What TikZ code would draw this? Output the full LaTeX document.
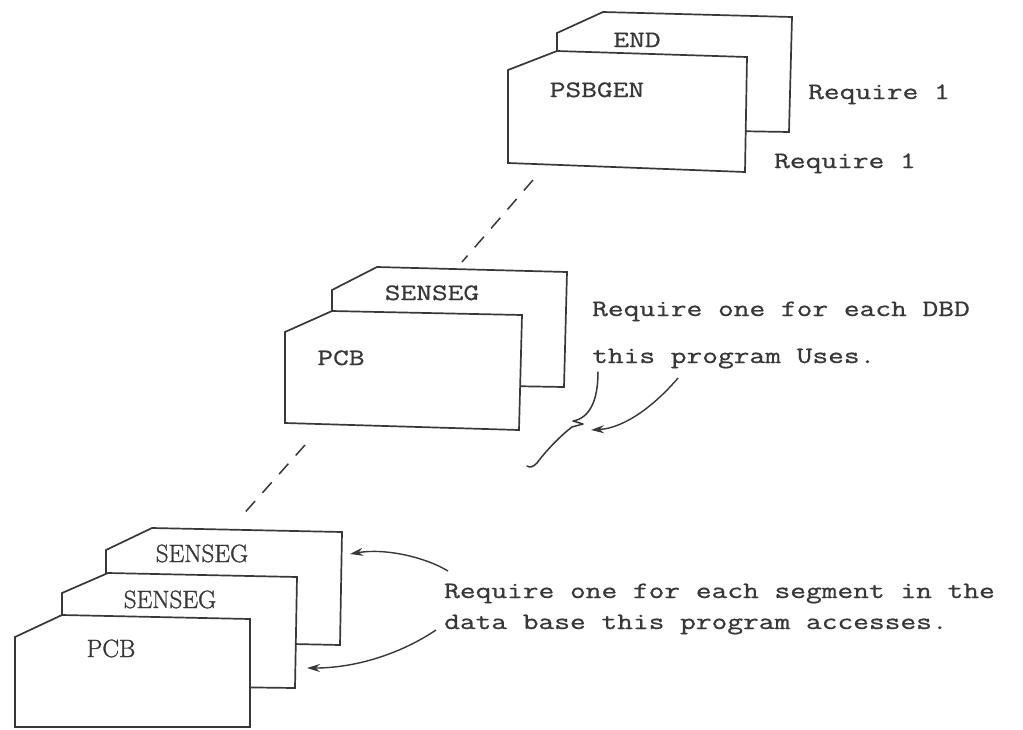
\documentclass[tikz,border=0pt]{standalone}
\usepackage{fontspec}
\newfontfamily\typeface{Latin Modern Mono}[FakeStretch=1.3, FakeBold=0.8]
\newfontfamily\printface{Latin Modern Roman}[FakeBold=1.2]
\usetikzlibrary{arrows.meta}
\definecolor{ink}{gray}{0.22}
\tikzset{
  card/.style={draw=ink, fill=white, line width=1.7pt, line join=miter},
  typed/.style={font=\typeface\fontsize{23.5}{30}\selectfont, text=ink, inner sep=0pt},
  printed/.style={font=\printface\fontsize{25}{30}\selectfont, text=ink, inner sep=0pt},
  link/.style={draw=ink, line width=1.5pt, dash pattern=on 14pt off 11pt},
  pointer/.style={draw=ink, line width=1.4pt, -{Stealth[length=13pt,width=8pt]}},
  bracket/.style={draw=ink, line width=1.5pt, line join=round, line cap=round},
}
\begin{document}
\begin{tikzpicture}[x=1pt, y=-1pt]
\useasboundingbox[fill=white] (0,0) rectangle (1023,729);

% ---- PSBGEN / END deck ----
\draw[card] (557,128) -- (557,33) -- (603,12) -- (792,17) -- (789,132) -- cycle;
\draw[card] (508,163) -- (508,70) -- (557,51) -- (747,57) -- (745,172) -- cycle;
\node[typed, anchor=base] (endcard) at (637,47) {END};
\node[typed, anchor=base] (psbgen) at (597,97) {PSBGEN};
\node[typed, anchor=base west] (req1a) at (808,99) {Require 1};
\node[typed, anchor=base west] (req1b) at (774,168) {Require 1};

% ---- PCB / SENSEG deck for one DBD ----
\draw[card] (332,383) -- (332,290) -- (377,267) -- (567,272) -- (564,387) -- cycle;
\draw[card] (285,423) -- (285,332) -- (332,311) -- (522,315) -- (519,430) -- cycle;
\node[typed, anchor=base] (senseg1) at (432,300) {SENSEG};
\node[typed, anchor=base] (pcb1) at (341,365) {PCB};
\node[typed, anchor=base west] (dbd1) at (592,316) {Require one for each DBD};
\node[typed, anchor=base west] (dbd2) at (592,363) {this program Uses.};

% ---- PCB / SENSEG / SENSEG deck for the segments ----
\draw[card] (106,640) -- (106,550) -- (152,528) -- (342,532) -- (340,645) -- cycle;
\draw[card] (62,685) -- (62,593) -- (108,573) -- (297,577) -- (295,688) -- cycle;
\draw[card] (15,727) -- (15,637) -- (62,615) -- (250,619) -- (250,727) -- cycle;
\node[printed, anchor=base] (senseg2) at (202,562) {SENSEG};
\node[printed, anchor=base] (senseg3) at (170,608) {SENSEG};
\node[printed, anchor=base] (pcb2) at (111,657) {PCB};
\node[typed, anchor=base west] (seg1) at (444,598) {Require one for each segment in the};
\node[typed, anchor=base west] (seg2) at (444,629) {data base this program accesses.};

% ---- dashed links between the decks ----
\coordinate (linkA1) at (533,180);
\coordinate (linkA2) at (462,262);
\coordinate (linkB1) at (305,445);
\coordinate (linkB2) at (240,518);
\draw[link] (linkA1) -- (linkA2);
\draw[link] (linkB1) -- (linkB2);

% ---- brace and pointers ----
\draw[bracket] (598,372) .. controls (598,400) and (590,418) .. (573,421)
  -- (583,424) -- (572,427) .. controls (560,436) and (545,452) .. (537,463)
  .. controls (533,467) and (530,468) .. (527,466);
\coordinate (dbdtail) at (678,378);
\coordinate (bracetip) at (591,430);
\draw[pointer] (dbdtail) .. controls (655,405) and (625,428) .. (bracetip);

\coordinate (segtailA) at (448,571);
\coordinate (segtipA) at (350,554);
\coordinate (segtailB) at (436,630);
\coordinate (segtipB) at (307,668);
\draw[pointer] (segtailA) .. controls (425,557) and (385,548) .. (segtipA);
\draw[pointer] (segtailB) .. controls (405,651) and (360,668) .. (segtipB);
\end{tikzpicture}
\end{document}
